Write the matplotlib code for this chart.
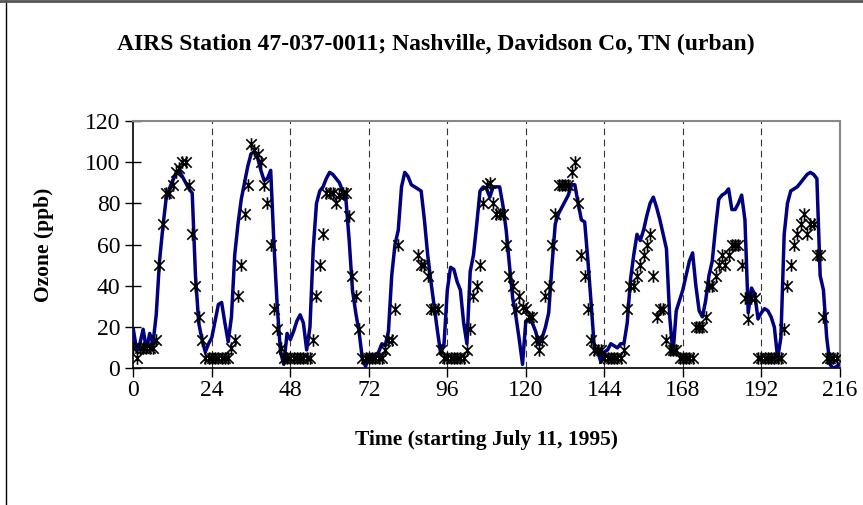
import numpy as np
import matplotlib
matplotlib.use('Agg')
import matplotlib.pyplot as plt
from matplotlib.lines import Line2D
from matplotlib.path import Path

plt.rcParams['font.family'] = ['Liberation Serif', 'DejaVu Serif']

# hourly modelled ozone (ppb), hours 0..216
model = [
    19, 9, 12, 19, 9, 17, 12, 26, 52, 68,
    82, 87, 91, 94, 96, 93, 90, 87, 85, 45,
    22, 14, 8, 12, 15, 23, 31, 32, 22, 13,
    25, 55, 70, 82, 90, 98, 104, 105, 102, 96,
    91, 92, 96, 60, 30, 8, 2, 17, 14, 18,
    23, 26, 22, 9, 20, 58, 80, 86, 88, 92,
    95, 94, 92, 90, 86, 82, 62, 38, 27, 18,
    5, 1, 6, 6, 6, 8, 12, 11, 18, 45,
    60, 67, 88, 95, 93, 89, 88, 87, 86, 72,
    55, 42, 30, 18, 7, 12, 38, 49, 48, 42,
    38, 22, 12, 47, 55, 70, 86, 88, 87, 83,
    88, 88, 88, 79, 67, 50, 34, 25, 14, 2,
    23, 24, 22, 18, 12, 15, 20, 27, 50, 70,
    75, 78, 81, 84, 89, 89, 80, 72, 71, 52,
    31, 9, 8, 3, 8, 9, 12, 11, 10, 12,
    12, 22, 43, 55, 65, 62, 67, 74, 80, 83,
    78, 72, 65, 58, 25, 7, 28, 33, 38, 45,
    52, 56, 40, 28, 25, 33, 45, 52, 68, 82,
    84, 85, 87, 77, 77, 80, 84, 72, 27, 39,
    36, 24, 27, 29, 28, 25, 20, 5, 15, 65,
    80, 86, 87, 88, 90, 92, 94, 95, 94, 92,
    45, 38, 15, 2, 0, 1, 2,
]

nan = np.nan
# hourly observed ozone (ppb), hours 0..215
observed = [
    10, 5, 10, 10, 10, 10, 10, 14, 50, 70,
    85, 85, 89, 95, 97, 100, 100, 89, 65, 40,
    25, 14, 5, 5, 5, 5, 5, 5, 5, 5,
    10, 14, 35, 50, 75, 89, 109, 106, 104, 100,
    89, 80, 60, 29, 19, 10, 5, 5, 5, 5,
    5, 5, 5, 5, 5, 14, 35, 50, 65, 85,
    85, 85, 80, 84, 85, 85, 74, 45, 35, 19,
    5, 5, 5, 5, 5, 5, 5, 9, 14, 14,
    29, 60, nan, nan, nan, nan, nan, 55, 50, 50,
    45, 29, 29, 29, 9, 5, 5, 5, 5, 5,
    5, 5, 9, 19, 35, 40, 50, 80, 89, 90,
    80, 75, 75, 75, 60, 45, 40, 29, 35, 30,
    29, 25, 25, 14, 9, 14, 35, 40, 60, 75,
    89, 89, 89, 89, 95, 100, 80, 55, 45, 29,
    14, 9, 9, 9, 5, 5, 5, 5, 5, 5,
    9, 29, 40, 40, 45, 50, 55, 60, 65, 45,
    25, 29, 29, 14, 9, 9, 9, 5, 5, 5,
    5, 5, 20, 20, 20, 25, 40, 40, 45, 50,
    55, 50, 55, 60, 60, 60, 50, 34, 24, 34,
    34, 5, 5, 5, 5, 5, 5, 5, 5, 19,
    40, 50, 60, 65, 70, 75, 65, 70, 70, 55,
    55, 25, 5, 5, 5, 5,
]

x_ticks = [0, 24, 48, 72, 96, 120, 144, 168, 192, 216]
y_ticks = [0, 20, 40, 60, 80, 100, 120]

# Excel style star marker: an X with a vertical bar
star = Path([(-1, -1), (1, 1), (-1, 1), (1, -1), (0, -1.2), (0, 1.2)],
            [Path.MOVETO, Path.LINETO, Path.MOVETO, Path.LINETO, Path.MOVETO, Path.LINETO])

fig = plt.figure(figsize=(8.63, 5.05), dpi=100)
ax = fig.add_axes([0.1545, 0.2703, 0.8186, 0.4905])

for d in x_ticks[1:-1]:
    ax.axvline(d, color='#333333', lw=0.8, ls=(0, (6, 4)), zorder=1)

ax.plot(np.arange(len(model)), model, color='#000080', lw=2.5, zorder=3)
ax.plot(np.arange(len(observed)), observed, ls='none', marker=star, ms=9,
        mec='black', mfc='none', mew=1.2, zorder=4)

ax.set_xlim(0, 216)
ax.set_ylim(0, 120)
ax.set_xticks(x_ticks)
ax.set_yticks(y_ticks)
ax.tick_params(axis='x', direction='out', length=6.5, width=1, pad=2, labelsize=17)
ax.tick_params(axis='y', direction='inout', length=11, width=1, pad=4, labelsize=17)

for s in ['top', 'right']:
    ax.spines[s].set_color('#888888')
    ax.spines[s].set_linewidth(1.5)
for s in ['left', 'bottom']:
    ax.spines[s].set_color('black')
    ax.spines[s].set_linewidth(1.2)

ax.set_xlabel('Time (starting July 11, 1995)', fontsize=15.5, fontweight='bold')
ax.set_ylabel('Ozone (ppb)', fontsize=15.5, fontweight='bold')
ax.xaxis.set_label_coords(0.5, -0.25)
ax.yaxis.set_label_coords(-0.113, 0.5)

fig.text(0.505, 0.911, 'AIRS Station 47-037-0011; Nashville, Davidson Co, TN (urban)',
         ha='center', va='center', fontsize=17, fontweight='bold')

# chart area frame (only top and left edges visible)
fig.add_artist(Line2D([0.007, 0.007], [0, 1], transform=fig.transFigure, color='black', lw=1))
fig.add_artist(Line2D([0, 1], [0.998, 0.998], transform=fig.transFigure, color='#555555', lw=2))

fig.savefig('out.png', dpi=100)
